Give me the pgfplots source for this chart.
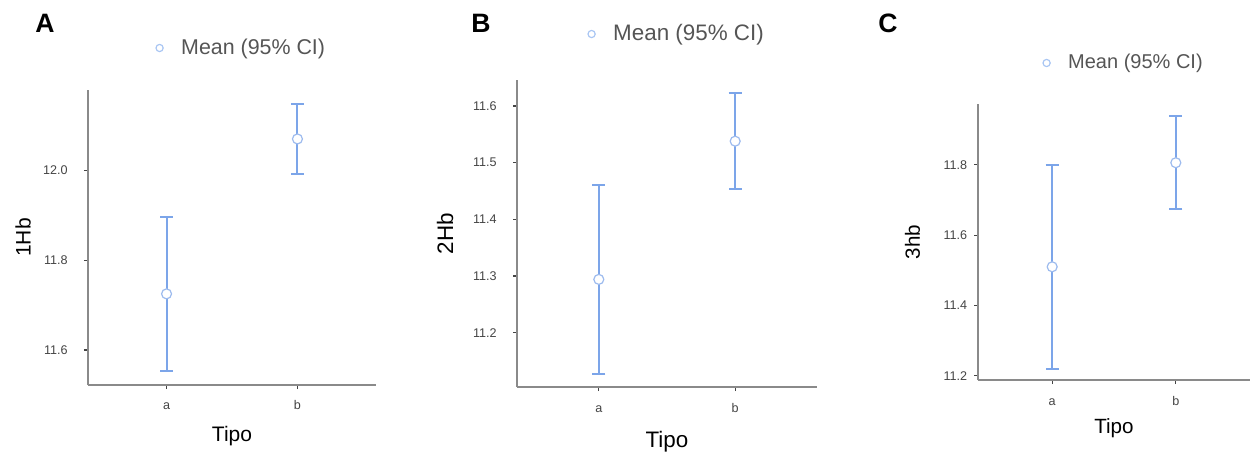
\documentclass[border=0pt]{standalone}
\usepackage{fontspec}
\setmainfont{Liberation Sans}
\usepackage{pgfplots}
\pgfplotsset{compat=1.18}

\definecolor{ci}{HTML}{7CA5E9}
\definecolor{cilight}{HTML}{A9C6F3}
\definecolor{axisgray}{HTML}{8A8A8A}
\definecolor{labgray}{HTML}{555555}
\definecolor{tickgray}{HTML}{444444}

% common look of the three panels
\pgfplotsset{
  cipanel/.style={
    scale only axis,
    anchor=south west,
    axis lines=left,
    axis line style={-, draw=axisgray, line width=0.8pt},
    tick align=outside,
    major tick length=2pt,
    tick style={tickgray, line width=0.6pt},
    xmin=-0.6, xmax=1.6,
    xtick={0,1}, xticklabels={a,b},
    /pgf/number format/assume math mode=true,
    ticklabel style={text=tickgray, font=\fontsize{6.3}{7}\selectfont, inner sep=0pt},
    xticklabel style={anchor=base},
    yticklabel style={anchor=east,
      /pgf/number format/fixed, /pgf/number format/fixed zerofill,
      /pgf/number format/precision=1},
    label style={text=labgray},
    legend style={draw=none, fill=none, anchor=west, inner sep=0pt,
      text=labgray, column sep=7pt},
    legend image code/.code={\draw[#1] plot coordinates {(0pt,0pt)};},
    clip=false,
  },
  cibars/.style={
    ci, only marks, line width=1pt,
    mark=*, mark size=2.5pt,
    mark options={fill=white, draw=ci!75, line width=0.6pt},
    error bars/.cd, y dir=both, y explicit,
    error bar style={line width=1pt, ci},
    error mark options={rotate=90, line width=1pt, ci, mark size=3.25pt},
  },
  cilegend/.style={only marks, mark=o, mark size=1.8pt,
    mark options={draw=cilight, line width=0.6pt}},
}

\begin{document}
\begin{tikzpicture}
\path[use as bounding box] (0pt,0pt) rectangle (625pt,-226pt);

% ---------------- A ----------------
\begin{axis}[cipanel,
  at={(44pt,-192.5pt)}, width=144pt, height=147.5pt,
  ymin=11.522, ymax=12.179, ytick={11.6,11.8,12.0},
  yticklabel style={xshift=-8pt},
  xticklabel style={yshift=-10pt},
  xlabel={Tipo}, ylabel={1Hb},
  every axis x label/.style={at={([yshift=-25.5pt]axis description cs:0.5,0)}, anchor=center,
    font=\fontsize{10.5}{12}\selectfont},
  every axis y label/.style={at={([xshift=-32.5pt]axis description cs:0,0.5)}, anchor=center,
    rotate=90, font=\fontsize{10.5}{12}\selectfont},
  legend style={at={(axis description cs:0.25,1.1424)}, xshift=-2.2pt,
    font=\fontsize{10.7}{12}\selectfont},
]
\addlegendimage{cilegend}
\addlegendentry{Mean (95\% CI)}
\addplot[cibars] coordinates {
  (0,11.725) +- (0,0.171)
  (1,12.070) +- (0,0.078)
};
\end{axis}

% ---------------- B ----------------
\begin{axis}[cipanel,
  at={(258.5pt,-193.5pt)}, width=150pt, height=153.5pt,
  ymin=11.104, ymax=11.646, ytick={11.2,11.3,11.4,11.5,11.6},
  yticklabel style={xshift=-8pt},
  xticklabel style={yshift=-10.5pt},
  xlabel={Tipo}, ylabel={2Hb},
  every axis x label/.style={at={([yshift=-27.3pt]axis description cs:0.5,0)}, anchor=center,
    font=\fontsize{11.2}{13}\selectfont},
  every axis y label/.style={at={([xshift=-36pt]axis description cs:0,0.5)}, anchor=center,
    rotate=90, font=\fontsize{11.2}{13}\selectfont},
  legend style={at={(axis description cs:0.25,1.1498)}, xshift=-2.2pt,
    font=\fontsize{11.2}{13}\selectfont},
]
\addlegendimage{cilegend}
\addlegendentry{Mean (95\% CI)}
\addplot[cibars] coordinates {
  (0,11.294) +- (0,0.167)
  (1,11.538) +- (0,0.085)
};
\end{axis}

% ---------------- C ----------------
\begin{axis}[cipanel,
  at={(489pt,-190pt)}, width=136pt, height=138pt,
  ymin=11.188, ymax=11.973, ytick={11.2,11.4,11.6,11.8},
  yticklabel style={xshift=-3.2pt},
  xticklabel style={yshift=-10.5pt},
  xlabel={Tipo}, ylabel={3hb},
  every axis x label/.style={at={([yshift=-24pt]axis description cs:0.5,0)}, anchor=center,
    font=\fontsize{10.3}{12}\selectfont},
  every axis y label/.style={at={([xshift=-32.7pt]axis description cs:0,0.5)}, anchor=center,
    rotate=90, font=\fontsize{10.3}{12}\selectfont},
  legend style={at={(axis description cs:0.2537,1.1486)}, xshift=-2.2pt,
    font=\fontsize{10}{12}\selectfont},
]
\addlegendimage{cilegend}
\addlegendentry{Mean (95\% CI)}
\addplot[cibars] coordinates {
  (0,11.510) +- (0,0.290)
  (1,11.806) +- (0,0.133)
};
\end{axis}

% panel letters
\node[font=\bfseries\fontsize{13.3}{15}\selectfont] at (22.5pt,-11.5pt) {A};
\node[font=\bfseries\fontsize{13.3}{15}\selectfont] at (240.5pt,-11.5pt) {B};
\node[font=\bfseries\fontsize{13.3}{15}\selectfont] at (444pt,-11.5pt) {C};
\end{tikzpicture}
\end{document}
